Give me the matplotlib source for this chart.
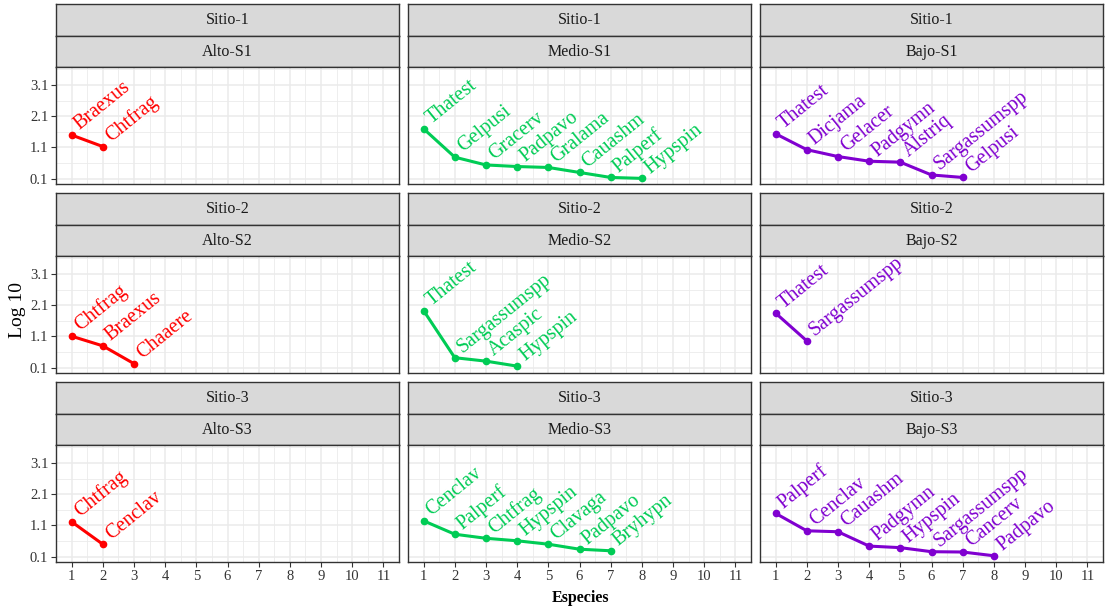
import matplotlib.pyplot as plt

# Datos por panel (especies ordenadas por rango, valores log10)
alto_s1_sp = ['Braexus', 'Chtfrag']
alto_s1_val = [1.50, 1.13]
medio_s1_sp = ['Thatest', 'Gelpusi', 'Gracerv', 'Padpavo', 'Gralama', 'Cauashm', 'Palperf', 'Hypspin']
medio_s1_val = [1.70, 0.79, 0.54, 0.49, 0.46, 0.30, 0.14, 0.11]
bajo_s1_sp = ['Thatest', 'Dicjama', 'Gelacer', 'Padgymn', 'Alstriq', 'Sargassumspp', 'Gelpusi']
bajo_s1_val = [1.54, 1.03, 0.81, 0.66, 0.63, 0.22, 0.14]

alto_s2_sp = ['Chtfrag', 'Braexus', 'Chaaere']
alto_s2_val = [1.11, 0.80, 0.23]
medio_s2_sp = ['Thatest', 'Sargassumspp', 'Acaspic', 'Hypspin']
medio_s2_val = [1.93, 0.42, 0.31, 0.15]
bajo_s2_sp = ['Thatest', 'Sargassumspp']
bajo_s2_val = [1.85, 0.96]

alto_s3_sp = ['Chtfrag', 'Cenclav']
alto_s3_val = [1.22, 0.50]
medio_s3_sp = ['Cenclav', 'Palperf', 'Chtfrag', 'Hypspin', 'Clavaga', 'Padpavo', 'Bryhypn']
medio_s3_val = [1.25, 0.82, 0.69, 0.61, 0.50, 0.34, 0.29]
bajo_s3_sp = ['Palperf', 'Cenclav', 'Cauashm', 'Padgymn', 'Hypspin', 'Sargassumspp', 'Cancerv', 'Padpavo']
bajo_s3_val = [1.49, 0.93, 0.90, 0.44, 0.39, 0.26, 0.25, 0.13]

sitios = ['Sitio-1', 'Sitio-2', 'Sitio-3']
zonas = ['Alto', 'Medio', 'Bajo']
colores = ['#FF0000', '#00CC55', '#8000D0']

paneles = [
    [(alto_s1_sp, alto_s1_val), (medio_s1_sp, medio_s1_val), (bajo_s1_sp, bajo_s1_val)],
    [(alto_s2_sp, alto_s2_val), (medio_s2_sp, medio_s2_val), (bajo_s2_sp, bajo_s2_val)],
    [(alto_s3_sp, alto_s3_val), (medio_s3_sp, medio_s3_val), (bajo_s3_sp, bajo_s3_val)],
]

W, H = 1106, 611
fig = plt.figure(figsize=(W / 100, H / 100), dpi=100)
serif = 'Liberation Serif'


def box(left, top, width, height):
    # pixel coords (origin top-left) -> figure fraction
    return [left / W, 1 - (top + height) / H, width / W, height / H]


col_left = [56, 408, 760]
col_w = 343
row_top = [4, 193, 382]
strip_h = 31.5
panel_h = 117

for r in range(3):
    for c in range(3):
        x0 = col_left[c]
        y0 = row_top[r]
        # strips
        for k, txt in enumerate([sitios[r], f'{zonas[c]}-S{r + 1}']):
            sax = fig.add_axes(box(x0, y0 + k * strip_h, col_w, strip_h))
            sax.set_facecolor('#D9D9D9')
            sax.set_xticks([])
            sax.set_yticks([])
            for s in sax.spines.values():
                s.set_color('#333333')
                s.set_linewidth(1.0)
            sax.text(0.5, 0.48, txt, ha='center', va='center', fontsize=11.5,
                     family=serif, color='#1A1A1A', transform=sax.transAxes)

        ax = fig.add_axes(box(x0, y0 + 2 * strip_h, col_w, panel_h))
        sp, val = paneles[r][c]
        xs = list(range(1, len(sp) + 1))
        ax.plot(xs, val, color=colores[c], lw=2.2, marker='o', ms=4.5, zorder=3)
        for xi, yi, name in zip(xs, val, sp):
            ax.annotate(name, (xi, yi), xytext=(8, 0.5), textcoords='offset points',
                        rotation=39, rotation_mode='anchor', ha='left', va='bottom',
                        fontsize=14.5, family=serif, color=colores[c], zorder=4)

        ax.set_xlim(0.5, 11.5)
        ax.set_ylim(-0.07, 3.68)
        ax.set_xticks(range(1, 12))
        ax.set_xticks([i + 0.5 for i in range(0, 11)] + [11.5], minor=True)
        ax.set_yticks([0.1, 1.1, 2.1, 3.1])
        ax.set_yticks([0.6, 1.6, 2.6, 3.6], minor=True)
        ax.grid(which='major', color='#EBEBEB', lw=1.1)
        ax.grid(which='minor', color='#EBEBEB', lw=0.6)
        ax.set_axisbelow(True)
        for s in ax.spines.values():
            s.set_color('#333333')
            s.set_linewidth(1.0)
        ax.tick_params(which='minor', length=0)
        ax.tick_params(which='major', length=3.5, color='#333333', width=0.8,
                       labelsize=10.5, labelcolor='#333333', pad=2)
        for lab in ax.get_xticklabels() + ax.get_yticklabels():
            lab.set_family(serif)
        if c != 0:
            ax.tick_params(axis='y', left=False, labelleft=False)
        if r != 2:
            ax.tick_params(axis='x', bottom=False, labelbottom=False)

fig.text(18 / W, 1 - 310 / H, 'Log 10', rotation=90, ha='center', va='center',
         fontsize=14, family=serif)
fig.text(580 / W, 1 - 598 / H, 'Especies', ha='center', va='center',
         fontsize=11.5, family=serif, fontweight='bold')

fig.savefig('out.png', dpi=100)
